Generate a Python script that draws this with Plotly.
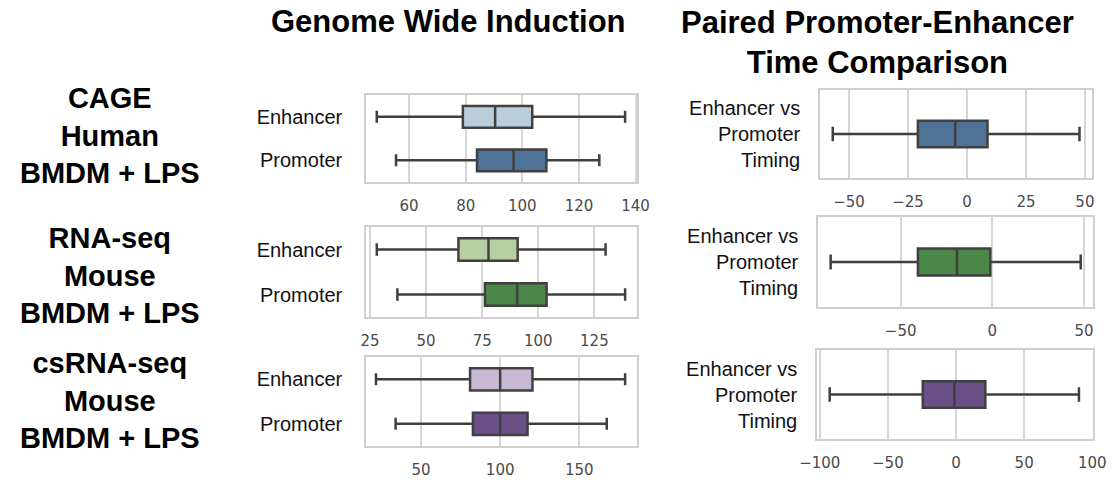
import plotly.graph_objects as go

W, H = 1112, 480

# ---- data ----
cats_left = ["Enhancer", "Promoter"]
cat_right = "Enhancer vs<br>Promoter<br>Timing"

# Genome wide induction: [lowerfence, q1, median, q3, upperfence]
cage_enh = [48.6, 79.0, 90.4, 103.5, 136.3]
cage_pro = [55.4, 84.0, 96.9, 108.5, 127.2]
rna_enh = [28.0, 64.4, 77.8, 90.8, 130.0]
rna_pro = [37.2, 76.2, 90.6, 103.7, 138.7]
csrna_enh = [21.6, 81.0, 100.0, 120.4, 178.9]
csrna_pro = [34.0, 82.8, 100.0, 117.3, 167.3]

# Paired promoter-enhancer timing
cage_pair = [-56.9, -20.8, -5.0, 8.7, 47.7]
rna_pair = [-88.2, -40.6, -19.3, -1.1, 48.2]
csrna_pair = [-92.7, -24.4, -1.2, 21.5, 90.2]

row_labels = ["CAGE<br>Human<br>BMDM + LPS",
              "RNA-seq<br>Mouse<br>BMDM + LPS",
              "csRNA-seq<br>Mouse<br>BMDM + LPS"]
titles = ["Genome Wide Induction", "Paired Promoter-Enhancer<br>Time Comparison"]

# ---- styles ----
colors = {
    "blue": ("#b9cdda", "#4f7396"),
    "green": ("#b6cfa2", "#4b8748"),
    "purple": ("#c8b8d3", "#6a5086"),
}
LINE = "#404040"
GRID = "#d6d6d6"
FRAME = "#cfcfcf"

# panel pixel boxes (x0, x1, y0, y1)
left_boxes = [(366, 637, 95, 182), (366, 637, 227, 317), (366, 637, 357, 446)]
right_boxes = [(820, 1092, 90, 178), (818, 1093, 217, 307), (817, 1093, 350, 439)]

left_ranges = [[44.8, 140.5], [23.2, 144.0], [15.3, 186.4]]
left_dticks = [20, 25, 50]
right_ranges = [[-62.3, 53.0], [-95.1, 54.9], [-102.0, 100.5]]
right_dticks = [25, 50, 50]

left_data = [(cage_enh, cage_pro), (rna_enh, rna_pro), (csrna_enh, csrna_pro)]
right_data = [cage_pair, rna_pair, csrna_pair]
palette = ["blue", "green", "purple"]

fig = go.Figure()


def dom(b):
    x0, x1, y0, y1 = b
    return [x0 / W, x1 / W], [1 - y1 / H, 1 - y0 / H]


def add_box(stats, cat, fill, xa, ya, width):
    lf, q1, med, q3, uf = stats
    fig.add_trace(go.Box(
        y=[cat], q1=[q1], median=[med], q3=[q3],
        lowerfence=[lf], upperfence=[uf],
        orientation="h", fillcolor=fill,
        line=dict(color=LINE, width=2.5),
        width=width, whiskerwidth=0.55,
        boxpoints=False, showlegend=False,
        xaxis=xa, yaxis=ya,
    ))


axis_common = dict(
    showgrid=True, gridcolor=GRID, gridwidth=1.5,
    showline=True, linecolor=FRAME, linewidth=1.5, mirror=True,
    zeroline=False, ticks="", automargin=False,
)

layout_axes = {}
n = 0
for i in range(3):
    # left panel
    n += 1
    xa, ya = f"x{n}", f"y{n}"
    xd, yd = dom(left_boxes[i])
    light, dark = colors[palette[i]]
    add_box(left_data[i][0], cats_left[0], light, xa, ya, 0.5)
    add_box(left_data[i][1], cats_left[1], dark, xa, ya, 0.5)
    layout_axes[f"xaxis{n}"] = dict(
        domain=xd, anchor=ya, range=left_ranges[i], dtick=left_dticks[i],
        tick0=0, tickfont=dict(family="DejaVu Sans", size=15, color="#4a4a4a"),
        ticklabelstandoff=9, **axis_common)
    layout_axes[f"yaxis{n}"] = dict(
        domain=yd, anchor=xa, type="category",
        categoryorder="array", categoryarray=cats_left,
        range=[1.5, -0.5], showgrid=False,
        showline=True, linecolor=FRAME, linewidth=1.5, mirror=True,
        zeroline=False, ticks="", ticklabelstandoff=18, automargin=False,
        tickfont=dict(family="Liberation Sans, Arial", size=20, color="#111111"))
    # right panel
    n += 1
    xa, ya = f"x{n}", f"y{n}"
    xd, yd = dom(right_boxes[i])
    add_box(right_data[i], cat_right, dark, xa, ya, 0.3)
    layout_axes[f"xaxis{n}"] = dict(
        domain=xd, anchor=ya, range=right_ranges[i], dtick=right_dticks[i],
        tick0=0, tickfont=dict(family="DejaVu Sans", size=15, color="#4a4a4a"),
        ticklabelstandoff=9, **axis_common)
    layout_axes[f"yaxis{n}"] = dict(
        domain=yd, anchor=xa, type="category",
        range=[-0.5, 0.5], showgrid=False,
        showline=True, linecolor=FRAME, linewidth=1.5, mirror=True,
        zeroline=False, ticks="", ticklabelstandoff=14, automargin=False,
        tickfont=dict(family="Liberation Sans, Arial", size=20, color="#111111"))

annotations = []
title_pos = [(448, 22), (877, 42)]
for t, (x, y) in zip(titles, title_pos):
    annotations.append(dict(
        text=f"<b>{t}</b>", x=x / W, y=1 - y / H, xref="paper", yref="paper",
        xanchor="center", yanchor="middle", showarrow=False,
        font=dict(family="Liberation Sans, Arial", size=31, color="#000000")))
label_pos = [(110, 135), (110, 275), (110, 400)]
for t, (x, y) in zip(row_labels, label_pos):
    annotations.append(dict(
        text=f"<b>{t}</b>", x=x / W, y=1 - y / H, xref="paper", yref="paper",
        xanchor="center", yanchor="middle", showarrow=False, align="center",
        font=dict(family="Liberation Sans, Arial", size=29, color="#000000")))

fig.update_layout(
    width=W, height=H, margin=dict(l=0, r=0, t=0, b=0, autoexpand=False),
    paper_bgcolor="white", plot_bgcolor="white",
    showlegend=False, annotations=annotations, **layout_axes,
)

fig.write_html("out.html")
